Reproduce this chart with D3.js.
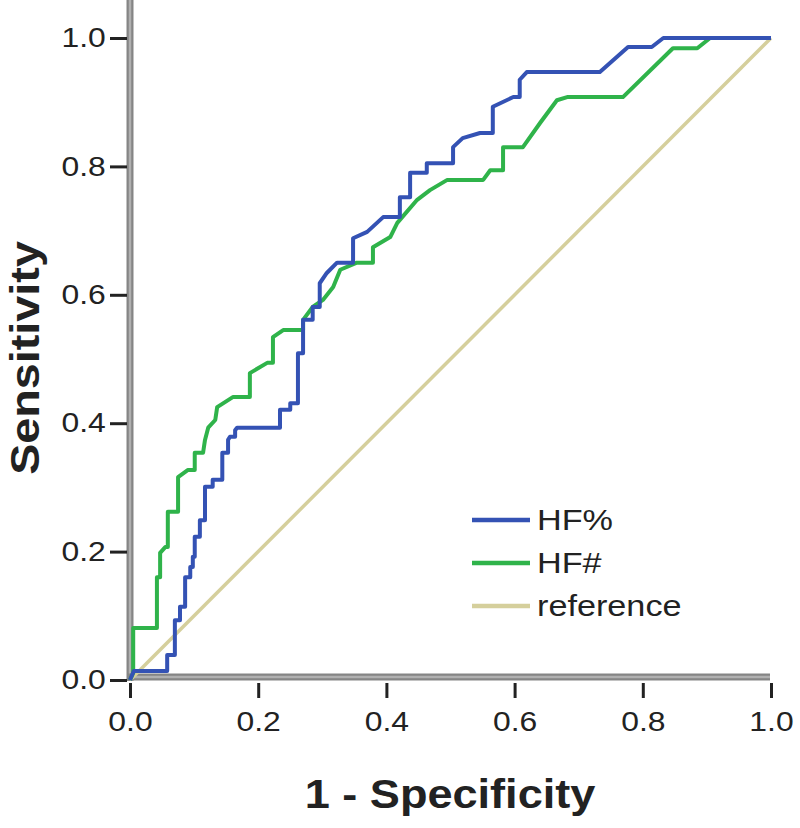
<!DOCTYPE html>
<html><head><meta charset="utf-8">
<script src="https://cdn.jsdelivr.net/npm/d3@7"></script>
<style>body{margin:0;background:#fff}svg{display:block}text{font-family:"Liberation Sans",Arial,sans-serif}</style>
</head><body>
<svg id="c" width="800" height="828"></svg>
<script>
const tickValues = [0, 0.2, 0.4, 0.6, 0.8, 1.0];
const seriesNames = ["HF%", "HF#", "reference"];
const seriesColors = ["#3452b4", "#2fb34a", "#d5cf9c"];
const hfPctFpr = [0,0.006,0.058,0.058,0.070,0.070,0.078,0.078,0.086,0.086,0.094,0.094,0.098,0.098,0.101,0.101,0.109,0.109,0.117,0.117,0.129,0.129,0.137,0.144,0.144,0.153,0.153,0.156,0.164,0.164,0.167,0.234,0.234,0.250,0.250,0.262,0.262,0.270,0.270,0.285,0.285,0.296,0.296,0.307,0.323,0.348,0.348,0.370,0.395,0.421,0.421,0.437,0.437,0.463,0.463,0.504,0.504,0.519,0.546,0.566,0.566,0.598,0.608,0.608,0.619,0.733,0.777,0.814,0.832,1];
const hfPctTpr = [0,0.014,0.014,0.039,0.039,0.093,0.093,0.114,0.114,0.160,0.160,0.176,0.176,0.192,0.192,0.223,0.223,0.249,0.249,0.301,0.301,0.312,0.312,0.312,0.354,0.354,0.374,0.379,0.379,0.389,0.393,0.393,0.421,0.421,0.431,0.431,0.509,0.509,0.561,0.561,0.581,0.581,0.618,0.634,0.650,0.650,0.688,0.698,0.721,0.721,0.752,0.752,0.790,0.790,0.805,0.805,0.830,0.844,0.852,0.852,0.893,0.908,0.908,0.935,0.947,0.947,0.986,0.986,1,1];
const hfNumFpr = [0,0.005,0.005,0.042,0.042,0.047,0.047,0.055,0.059,0.059,0.075,0.075,0.090,0.101,0.101,0.114,0.117,0.122,0.133,0.136,0.161,0.187,0.187,0.214,0.223,0.223,0.239,0.270,0.270,0.285,0.301,0.317,0.328,0.354,0.379,0.379,0.406,0.417,0.448,0.468,0.495,0.551,0.562,0.582,0.582,0.613,0.640,0.666,0.682,0.769,0.847,0.885,0.905,1];
const hfNumTpr = [0,0.011,0.081,0.081,0.160,0.160,0.198,0.207,0.207,0.262,0.262,0.316,0.327,0.327,0.354,0.354,0.374,0.393,0.405,0.425,0.441,0.441,0.478,0.494,0.494,0.534,0.545,0.545,0.561,0.581,0.592,0.612,0.639,0.650,0.650,0.674,0.690,0.712,0.748,0.763,0.779,0.779,0.794,0.794,0.830,0.830,0.868,0.903,0.908,0.908,0.984,0.984,1,1];
const refFpr = [0, 1];
const refTpr = [0, 1];

const svg = d3.select("#c");
const x = d3.scaleLinear().domain([0, 1]).range([130, 771]);
const y = d3.scaleLinear().domain([0, 1]).range([680, 38]);
const FONT = '"Liberation Sans",Arial,sans-serif';

// axes lines (thick gray)
const axisG = svg.append("g");
axisG.append("line").attr("x1", 130).attr("x2", 130).attr("y1", 0).attr("y2", 681)
  .attr("stroke", "#858585").attr("stroke-width", 7);
axisG.append("line").attr("x1", 130).attr("x2", 130).attr("y1", 0).attr("y2", 678)
  .attr("stroke", "#b0b0b0").attr("stroke-width", 2.5);
axisG.append("line").attr("x1", 127).attr("x2", 770).attr("y1", 677).attr("y2", 677)
  .attr("stroke", "#858585").attr("stroke-width", 7);
axisG.append("line").attr("x1", 131).attr("x2", 770).attr("y1", 677).attr("y2", 677)
  .attr("stroke", "#b0b0b0").attr("stroke-width", 2.5);

// ticks via d3 axes
const xAxis = d3.axisBottom(x).tickValues(tickValues).tickFormat(d3.format(".1f")).tickSize(15).tickPadding(14);
const gx = svg.append("g").attr("transform", "translate(0,683)").call(xAxis);
gx.select(".domain").remove();
gx.selectAll(".tick line").attr("stroke", "#222").attr("stroke-width", 3);
gx.selectAll(".tick text").attr("font-size", 27).attr("fill", "#222").style("font-family", FONT)
  .attr("transform", "scale(1.18,1)");

const yAxis = d3.axisLeft(y).tickValues(tickValues).tickFormat(d3.format(".1f")).tickSize(17).tickPadding(4);
const gy = svg.append("g").attr("transform", "translate(127,0)").call(yAxis);
gy.select(".domain").remove();
gy.selectAll(".tick line").attr("stroke", "#222").attr("stroke-width", 3);
gy.selectAll(".tick text").attr("font-size", 27).attr("fill", "#222").style("font-family", FONT)
  .attr("x", -18).attr("transform", "scale(1.18,1)");

// curves
const line = d3.line().x(d => x(d[0])).y(d => y(d[1]));
const refData = d3.zip(refFpr, refTpr);
const pctData = d3.zip(hfPctFpr, hfPctTpr);
const numData = d3.zip(hfNumFpr, hfNumTpr);
svg.append("path").datum(refData).attr("d", line).attr("fill", "none")
  .attr("stroke", seriesColors[2]).attr("stroke-width", 3.5);
svg.append("path").datum(numData).attr("d", line).attr("fill", "none")
  .attr("stroke", seriesColors[1]).attr("stroke-width", 4).attr("stroke-linejoin", "round");
svg.append("path").datum(pctData).attr("d", line).attr("fill", "none")
  .attr("stroke", seriesColors[0]).attr("stroke-width", 4).attr("stroke-linejoin", "round");

// legend
const lg = svg.append("g");
seriesNames.forEach((n, i) => {
  const yy = 520 + i * 43;
  lg.append("line").attr("x1", 472).attr("x2", 530).attr("y1", yy).attr("y2", yy)
    .attr("stroke", seriesColors[i]).attr("stroke-width", 4.5);
  lg.append("text").attr("transform", `translate(537,${yy}) scale(1.18,1)`).attr("dy", "0.35em")
    .attr("font-size", 29).attr("fill", "#222").text(n);
});

// titles
svg.append("text").attr("transform", "translate(450,808) scale(1.1,1)").attr("text-anchor", "middle")
  .attr("font-size", 41).attr("font-weight", "bold").attr("fill", "#222").text("1 - Specificity");
svg.append("text").attr("transform", "translate(39,358) rotate(-90) scale(1.14,1)").attr("text-anchor", "middle")
  .attr("font-size", 41).attr("font-weight", "bold").attr("fill", "#222").text("Sensitivity");
</script>
</body></html>
